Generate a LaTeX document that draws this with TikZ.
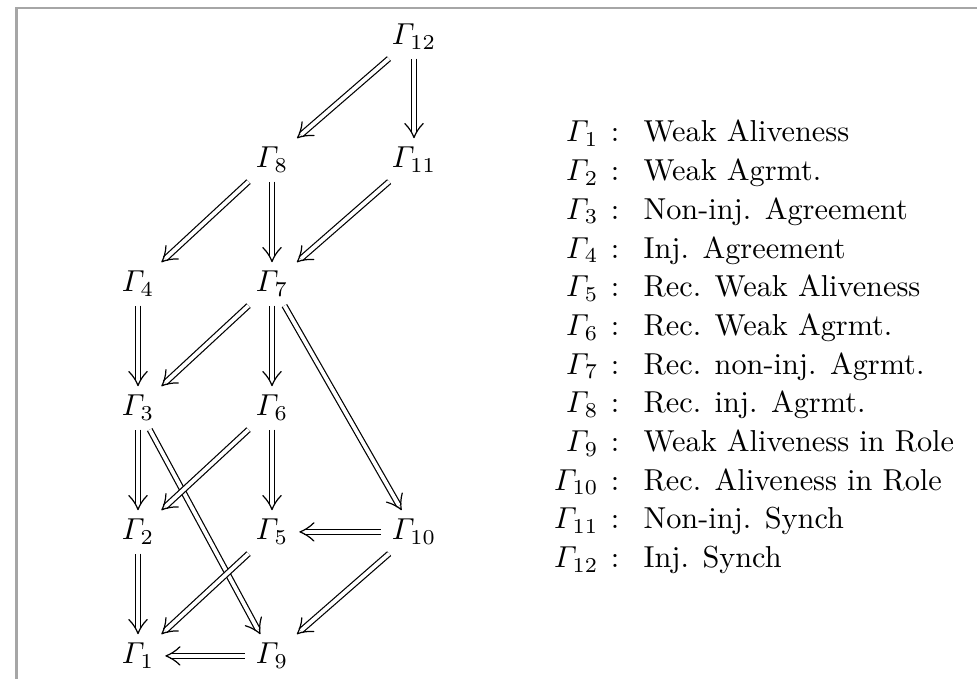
\documentclass[tikz,border=0pt]{standalone}
\usepackage{amsmath}
\usetikzlibrary{arrows.meta}
\pgfdeclarearrow{
  name = bigimp,
  setup code = {
    \pgfarrowssettipend{0.2pt}
    \pgfarrowssetlineend{-1.5pt}
    \pgfarrowssetbackend{-4.6pt}
    \pgfarrowshullpoint{0.2pt}{0pt}
    \pgfarrowshullpoint{-4.6pt}{3pt}
    \pgfarrowshullpoint{-4.6pt}{-3pt}
  },
  drawing code = {
    \pgfsetlinewidth{0.4pt}
    \pgfsetdash{}{0pt}
    \pgfsetroundcap
    \pgfsetroundjoin
    \pgfpathmoveto{\pgfqpoint{-4.6pt}{3pt}}
    \pgfpathcurveto{\pgfqpoint{-3.2pt}{1.55pt}}{\pgfqpoint{-1.3pt}{0.45pt}}{\pgfqpoint{0pt}{0pt}}
    \pgfpathcurveto{\pgfqpoint{-1.3pt}{-0.45pt}}{\pgfqpoint{-3.2pt}{-1.55pt}}{\pgfqpoint{-4.6pt}{-3pt}}
    \pgfusepathqstroke
  }
}
\begin{document}
\begin{tikzpicture}[x=0.33pt,y=-0.33pt,
  g/.style={anchor=base, inner xsep=3.5pt, inner ysep=2.8pt, font=\fontsize{10}{12}\selectfont},
  imp/.style={double, double distance=1.25pt, line width=0.4pt, -bigimp},
  lg/.style={inner sep=0pt, font=\fontsize{10}{12}\selectfont}]
\useasboundingbox (0,0) rectangle (977,679);
\draw[black!35, line width=0.7pt] (16.5,679) -- (16.5,8) -- (977,8);
% graph nodes
\node[g] (G12) at (414,45) {$\varGamma_{12}$};
\node[g] (G8) at (272,168) {$\varGamma_{8}$};
\node[g] (G11) at (414,168) {$\varGamma_{11}$};
\node[g] (G4) at (138,292) {$\varGamma_{4}$};
\node[g] (G7) at (272,292) {$\varGamma_{7}$};
\node[g] (G3) at (138,416) {$\varGamma_{3}$};
\node[g] (G6) at (272,416) {$\varGamma_{6}$};
\node[g] (G2) at (138,540) {$\varGamma_{2}$};
\node[g] (G5) at (272,540) {$\varGamma_{5}$};
\node[g] (G10) at (414,540) {$\varGamma_{10}$};
\node[g] (G1) at (138,664) {$\varGamma_{1}$};
\node[g] (G9) at (272,664) {$\varGamma_{9}$};
% arrows
\draw[imp] (G12) -- (G8);
\draw[imp] (G12) -- (G11);
\draw[imp] (G8) -- (G4);
\draw[imp] (G8) -- (G7);
\draw[imp] (G11) -- (G7);
\draw[imp] (G4) -- (G3);
\draw[imp] (G7) -- (G3);
\draw[imp] (G7) -- (G6);
\draw[imp] (G7) -- (G10);
\draw[imp] (G3) -- (G2);
\draw[imp] (G3) -- (G9);
\draw[imp] (G6) -- (G2);
\draw[imp] (G6) -- (G5);
\draw[imp] (G10) -- (G5);
\draw[imp] (G2) -- (G1);
\draw[imp] (G5) -- (G1);
\draw[imp] (G10) -- (G9);
\draw[imp] (G9) -- (G1);
% legend
\foreach \i/\t [count=\k from 0] in {1/Weak Aliveness, 2/Weak Agrmt., 3/Non-inj. Agreement, 4/Inj. Agreement, 5/Rec. Weak Aliveness, 6/Rec. Weak Agrmt., 7/Rec. non-inj. Agrmt., 8/Rec. inj. Agrmt., 9/Weak Aliveness in Role, 10/Rec. Aliveness in Role, 11/Non-inj. Synch, 12/Inj. Synch}{
  \node[lg, anchor=base east] (L\i) at (599,{142+\k*38.7}) {$\varGamma_{\i}$};
  \node[lg, anchor=base] (C\i) at (615,{142+\k*38.7}) {$:$};
  \node[lg, anchor=base west] (T\i) at (643,{142+\k*38.7}) {\t};
}
\end{tikzpicture}
\end{document}
